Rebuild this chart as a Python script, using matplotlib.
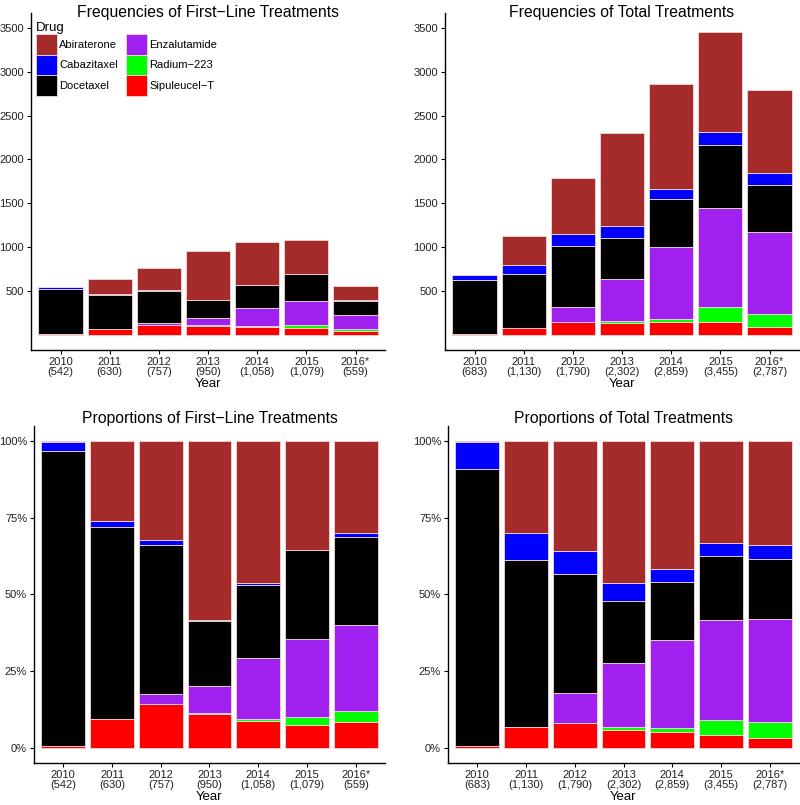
import numpy as np
import matplotlib
matplotlib.use('Agg')
import matplotlib.pyplot as plt
from matplotlib.patches import Patch

plt.rcParams['font.family'] = ['Liberation Sans', 'DejaVu Sans']

# =============================================================================
# DATA (counts per drug and year)
years = ['2010', '2011', '2012', '2013', '2014', '2015', '2016*']
drugs = ['Abiraterone', 'Cabazitaxel', 'Docetaxel',
         'Enzalutamide', 'Radium-223', 'Sipuleucel-T']
colors = ['#A52A2A', '#0000FF', '#000000', '#A020F0', '#00FF00', '#FF0000']

# first-line treatments
abi_first = [1, 164, 245, 554, 491, 382, 168]
cab_first = [16, 13, 10, 3, 4, 2, 6]
doc_first = [522, 393, 370, 201, 254, 312, 161]
enz_first = [0, 0, 24, 85, 209, 275, 157]
rad_first = [0, 0, 0, 4, 7, 29, 20]
sip_first = [3, 60, 108, 103, 93, 79, 47]

# total treatments
abi_total = [2, 340, 642, 1063, 1196, 1147, 940]
cab_total = [59, 97, 134, 136, 114, 148, 134]
doc_total = [618, 617, 695, 468, 546, 719, 543]
enz_total = [0, 0, 174, 480, 820, 1125, 936]
rad_total = [0, 0, 0, 24, 34, 174, 142]
sip_total = [4, 76, 145, 131, 149, 142, 92]

# stacking order from bottom to top
stack_order = ['Sipuleucel-T', 'Radium-223', 'Enzalutamide',
               'Docetaxel', 'Cabazitaxel', 'Abiraterone']

first = dict(zip(drugs, [abi_first, cab_first, doc_first,
                         enz_first, rad_first, sip_first]))
total = dict(zip(drugs, [abi_total, cab_total, doc_total,
                         enz_total, rad_total, sip_total]))
col = dict(zip(drugs, colors))

W, H = 800, 805
EDGE = '#f2d8d8'


def px_axes(fig, left, right, top, bottom):
    return fig.add_axes([left / W, (H - bottom) / H,
                         (right - left) / W, (bottom - top) / H])


def stacked(ax, data, prop=False):
    x = np.arange(1, len(years) + 1)
    tot = np.sum([data[d] for d in drugs], axis=0)
    base = np.zeros(len(years))
    for d in stack_order:
        v = np.array(data[d], dtype=float)
        if prop:
            v = v / tot
        ax.bar(x, v, width=0.9, bottom=base, color=col[d],
               edgecolor=EDGE, linewidth=0.6)
        base += v
    ax.set_xlim(0.4, len(years) + 0.6)
    ax.set_xticks(x)
    ax.set_xticklabels([f'{y}\n({t:,})' for y, t in zip(years, tot)],
                       fontsize=8, linespacing=0.95, color='#222222')
    ax.set_xlabel('Year', fontsize=9.5, labelpad=1)
    if prop:
        ax.set_ylim(-0.05, 1.05)
        ax.set_yticks([0, 0.25, 0.5, 0.75, 1.0])
        ax.set_yticklabels(['0%', '25%', '50%', '75%', '100%'])
    else:
        ax.set_ylim(-175, 3670)
        ax.set_yticks(range(500, 3501, 500))
    for lab in ax.get_yticklabels():
        lab.set_fontsize(8)
        lab.set_color('#222222')
    for s in ['top', 'right']:
        ax.spines[s].set_visible(False)
    for s in ['left', 'bottom']:
        ax.spines[s].set_linewidth(1.0)
    ax.tick_params(length=3, width=0.8, pad=2)


fig = plt.figure(figsize=(W / 100, H / 100), dpi=100)

ax1 = px_axes(fig, 31, 385, 13, 350)
stacked(ax1, first)
ax1.set_title('Frequencies of First\u2212Line Treatments', fontsize=11.3,
              pad=0, y=0.988)

ax2 = px_axes(fig, 445, 799, 13, 350)
stacked(ax2, total)
ax2.set_title('Frequencies of Total Treatments', fontsize=11.3,
              pad=0, y=0.988)

ax3 = px_axes(fig, 34, 385, 426, 763)
stacked(ax3, first, prop=True)
ax3.set_title('Proportions of First\u2212Line Treatments', fontsize=11.3, pad=2)

ax4 = px_axes(fig, 448, 799, 426, 763)
stacked(ax4, total, prop=True)
ax4.set_title('Proportions of Total Treatments', fontsize=11.3, pad=2)

# legend inside the first panel
handles = [Patch(facecolor=col[d], edgecolor=EDGE, linewidth=0.6,
                 label=d.replace('-', '\u2212')) for d in drugs]
leg = ax1.legend(handles=handles, title='Drug', ncol=2, loc='upper left',
                 bbox_to_anchor=(0.014, 0.972), frameon=False, fontsize=8,
                 title_fontsize=9.5, handlelength=1.9, handleheight=2.45,
                 labelspacing=0.0, columnspacing=0.7, handletextpad=0.2,
                 borderpad=0, borderaxespad=0, alignment='left')

fig.savefig('out.png', dpi=100)
